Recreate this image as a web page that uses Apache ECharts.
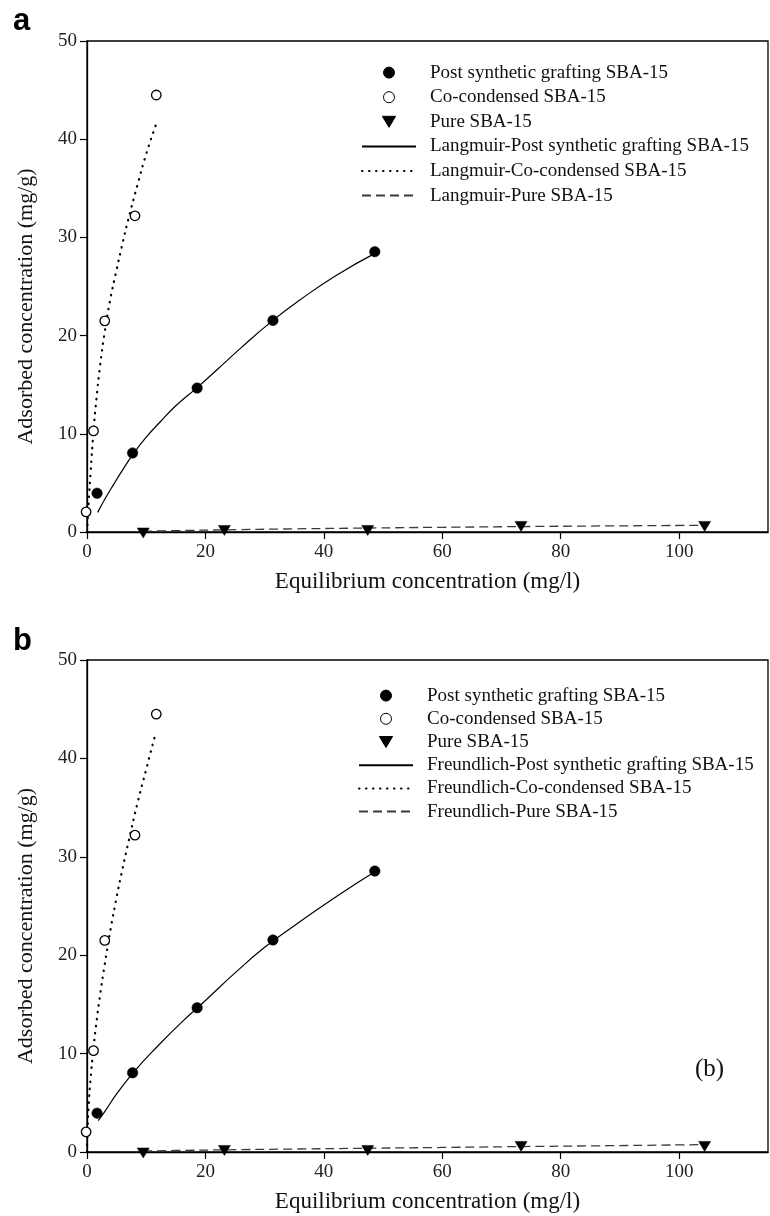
<!DOCTYPE html>
<html>
<head>
<meta charset="utf-8">
<script src="https://cdn.jsdelivr.net/npm/echarts@6/dist/echarts.min.js"></script>
<style>
  html, body { margin: 0; padding: 0; background: #fff; }
  #chart { width: 770px; height: 1216px; }
</style>
</head>
<body>
<div id="chart"></div>
<script>
// ---------- data ----------
const xTickValues = [0, 20, 40, 60, 80, 100];
const yTickValues = [0, 10, 20, 30, 40, 50];

const nameGraft = 'Post synthetic grafting SBA-15';
const nameCo = 'Co-condensed SBA-15';
const namePure = 'Pure SBA-15';

// experimental points
const graftX = [1.7, 7.7, 18.6, 31.4, 48.6];
const graftY = [3.95, 8.05, 14.66, 21.55, 28.55];
const coX = [-0.15, 1.1, 3.0, 8.1, 11.7];
const coY = [2.05, 10.3, 21.5, 32.2, 44.5];
const pureX = [9.5, 23.2, 47.4, 73.3, 104.3];
const pureY = [-0.1, 0.16, 0.16, 0.57, 0.57];

// Langmuir fitted curves (panel a)
const langGraftX = [1.8, 3, 4.5, 6, 7.7, 10, 12.5, 15, 18.6, 22, 26, 31.4, 36, 42, 48.7];
const langGraftY = [2.0, 3.33, 4.85, 6.3, 7.85, 9.65, 11.3, 12.85, 14.7, 16.55, 18.75, 21.55, 23.65, 26.1, 28.4];
const langCoX = [0, 0.3, 0.6, 1.1, 1.6, 2.2, 3.0, 3.9, 5.0, 6.0, 7.0, 8.5, 10.0, 11.6];
const langCoY = [0, 3.2, 6.0, 10.3, 13.6, 16.9, 20.4, 23.6, 26.7, 29.4, 31.9, 35.3, 38.5, 41.4];
const langPureX = [9.5, 15, 23, 35, 47, 60, 73, 88, 104.5];
const langPureY = [0.08, 0.14, 0.22, 0.32, 0.4, 0.48, 0.55, 0.62, 0.68];

// Freundlich fitted curves (panel b)
const freGraftX = [1.9, 3, 5, 8, 12, 16, 20, 25, 30, 35, 40, 45, 48.7];
const freGraftY = [3.2, 4.1, 5.9, 8.2, 10.8, 13.2, 15.4, 18.2, 20.8, 23.0, 25.1, 27.1, 28.5];
const freCoX = [0, 0.02, 0.1, 0.3, 0.6, 1.1, 1.6, 2.2, 3, 4, 5, 6, 7, 8.5, 10, 11.6];
const freCoY = [0, 1.0, 2.6, 4.9, 7.4, 10.6, 13.2, 15.9, 19.1, 22.7, 25.9, 28.8, 31.5, 35.4, 38.9, 42.6];
const frePureX = [9.5, 15, 23, 35, 47, 60, 73, 88, 104.5];
const frePureY = [0.1, 0.15, 0.22, 0.3, 0.38, 0.46, 0.55, 0.64, 0.75];

const xTitle = 'Equilibrium concentration (mg/l)';
const yTitle = 'Adsorbed concentration (mg/g)';

// ---------- chart ----------
const zip = (xs, ys) => xs.map((x, i) => [x, ys[i]]);
const SERIF = '"Liberation Serif", "Times New Roman", serif';

function axes(gridIndex) {
  const x = {
    type: 'value', gridIndex, min: 0, max: 115, interval: 20,
    name: xTitle, nameLocation: 'middle', nameGap: 38,
    nameTextStyle: { fontFamily: SERIF, fontSize: 23, color: '#111' },
    axisLine: { show: true, lineStyle: { color: '#000', width: 1.3 } },
    axisTick: { show: true, inside: false, length: 7, customValues: xTickValues, lineStyle: { color: '#000', width: 1.2 } },
    axisLabel: { margin: 11, fontFamily: SERIF, fontSize: 19, color: '#222', customValues: xTickValues },
    splitLine: { show: false }
  };
  const y = {
    type: 'value', gridIndex, min: 0, max: 50, interval: 10,
    name: yTitle, nameLocation: 'middle', nameGap: 50, nameRotate: 90,
    nameTextStyle: { fontFamily: SERIF, fontSize: 22, color: '#111', padding: [0, 40, 0, 0] },
    axisLine: { show: true, lineStyle: { color: '#000', width: 1.3 } },
    axisTick: { show: true, inside: false, length: 7, customValues: yTickValues, lineStyle: { color: '#000', width: 1.2 } },
    axisLabel: { margin: 10, fontFamily: SERIF, fontSize: 19, color: '#222', customValues: yTickValues },
    splitLine: { show: false }
  };
  return [x, y];
}

function scatterSeries(idx) {
  return [
    { name: nameGraft, type: 'scatter', xAxisIndex: idx, yAxisIndex: idx, clip: false, z: 5,
      symbol: 'circle', symbolSize: 10.5,
      itemStyle: { color: '#000', borderColor: '#000', borderWidth: 0.5, opacity: 1 },
      data: zip(graftX, graftY) },
    { name: nameCo, type: 'scatter', xAxisIndex: idx, yAxisIndex: idx, clip: false, z: 5,
      symbol: 'circle', symbolSize: 9.5,
      itemStyle: { color: '#fff', borderColor: '#000', borderWidth: 1.3, opacity: 1 },
      data: zip(coX, coY) },
    { name: namePure, type: 'scatter', xAxisIndex: idx, yAxisIndex: idx, clip: false, z: 5,
      symbol: 'triangle', symbolSize: [12, 10], symbolRotate: 180,
      itemStyle: { color: '#000', borderColor: '#000', borderWidth: 0.5, opacity: 1 },
      data: zip(pureX, pureY) }
  ];
}

function lineSeries(idx, prefix, gx, gy, cx, cy, px, py) {
  const common = { type: 'line', xAxisIndex: idx, yAxisIndex: idx, symbol: 'none', showSymbol: false,
    smooth: 0.5, clip: false, z: 3, itemStyle: { color: '#000' } };
  return [
    Object.assign({}, common, { name: prefix + '-' + nameGraft,
      lineStyle: { color: '#000', width: 1.2, type: 'solid' }, data: zip(gx, gy) }),
    Object.assign({}, common, { name: prefix + '-' + nameCo,
      lineStyle: { color: '#000', width: 2.2, type: [0.5, 6.5], cap: 'round' }, data: zip(cx, cy) }),
    Object.assign({}, common, { name: prefix + '-' + namePure,
      lineStyle: { color: '#3a3a3a', width: 1.3, type: [9, 5] }, data: zip(px, py) })
  ];
}

function legend(top, left, gap, prefix) {
  const hidden = { color: 'rgba(0,0,0,0)', borderWidth: 0, borderColor: 'rgba(0,0,0,0)' };
  return {
    orient: 'vertical', left, top, padding: 0, itemWidth: 54, itemHeight: 11, itemGap: gap,
    selectedMode: false, symbolKeepAspect: true,
    itemStyle: { borderWidth: 1 },
    textStyle: { fontFamily: SERIF, fontSize: 19, color: '#111', padding: [0, 0, 0, 9] },
    data: [
      { name: nameGraft, icon: 'circle' },
      { name: nameCo, icon: 'circle' },
      { name: namePure, icon: 'path://M0,0L12,0L6,10Z' },
      { name: prefix + '-' + nameGraft, itemStyle: hidden },
      { name: prefix + '-' + nameCo, itemStyle: hidden },
      { name: prefix + '-' + namePure, itemStyle: hidden }
    ]
  };
}

const [xa, ya] = axes(0);
const [xb, yb] = axes(1);

const option = {
  backgroundColor: '#fff',
  animation: false,
  grid: [
    { left: 87, top: 41, width: 681, height: 491, show: true, borderColor: '#000', borderWidth: 1.3, backgroundColor: 'transparent' },
    { left: 87, top: 660, width: 681, height: 492, show: true, borderColor: '#000', borderWidth: 1.3, backgroundColor: 'transparent' }
  ],
  xAxis: [xa, xb],
  yAxis: [ya, yb],
  legend: [
    legend(63.1, 361, 5.6, 'Langmuir'),
    legend(686.1, 358, 4.2, 'Freundlich')
  ],
  graphic: [
    { type: 'text', left: 13, top: 6, style: { text: 'a', font: 'bold 31px "Liberation Sans", Arial, sans-serif', fill: '#000' } },
    { type: 'text', left: 13, top: 626, style: { text: 'b', font: 'bold 31px "Liberation Sans", Arial, sans-serif', fill: '#000' } },
    { type: 'text', left: 695, top: 1057, style: { text: '(b)', font: '25px "Liberation Serif", "Times New Roman", serif', fill: '#111' } }
  ],
  series: [].concat(
    scatterSeries(0),
    lineSeries(0, 'Langmuir', langGraftX, langGraftY, langCoX, langCoY, langPureX, langPureY),
    scatterSeries(1),
    lineSeries(1, 'Freundlich', freGraftX, freGraftY, freCoX, freCoY, frePureX, frePureY)
  )
};

const chart = echarts.init(document.getElementById('chart'), null, { renderer: 'canvas' });
chart.setOption(option);
</script>
</body>
</html>
